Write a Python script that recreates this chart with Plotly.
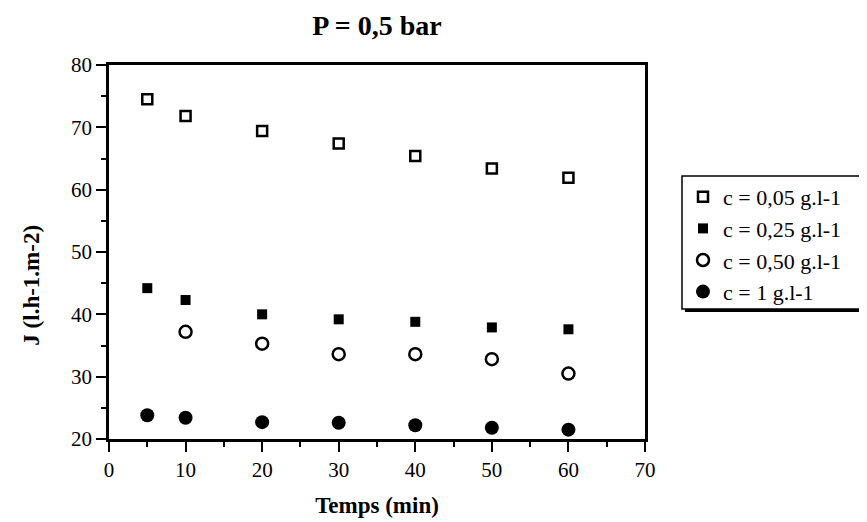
import plotly.graph_objects as go

time_min = [5, 10, 20, 30, 40, 50, 60]
time_050 = [10, 20, 30, 40, 50, 60]

J_c005 = [74.5, 71.8, 69.4, 67.4, 65.4, 63.4, 61.9]
J_c025 = [44.2, 42.3, 40.0, 39.2, 38.8, 37.9, 37.6]
J_c050 = [37.2, 35.3, 33.6, 33.6, 32.8, 30.5]
J_c1 = [23.8, 23.4, 22.7, 22.6, 22.2, 21.8, 21.5]

labels = ["c = 0,05 g.l-1", "c = 0,25 g.l-1", "c = 0,50 g.l-1", "c = 1 g.l-1"]

font_family = "Liberation Serif, Times New Roman, serif"

# plot-area geometry in pixels (for paper-coordinate conversions)
L, R, T, B = 101, 637, 57, 431
W, H = R - L, B - T


def px(xp):
    return (xp - L) / W


def py(yp):
    return (B - yp) / H


fig = go.Figure()
fig.add_trace(go.Scatter(x=time_min, y=J_c005, mode="markers", name=labels[0],
                         marker=dict(symbol="square-open", size=10, color="black",
                                     line=dict(width=2.5, color="black"))))
fig.add_trace(go.Scatter(x=time_min, y=J_c025, mode="markers", name=labels[1],
                         marker=dict(symbol="square", size=10, color="black")))
fig.add_trace(go.Scatter(x=time_050, y=J_c050, mode="markers", name=labels[2],
                         marker=dict(symbol="circle-open", size=12, color="black",
                                     line=dict(width=2.5, color="black"))))
fig.add_trace(go.Scatter(x=time_min, y=J_c1, mode="markers", name=labels[3],
                         marker=dict(symbol="circle", size=14, color="black")))

axis_common = dict(
    showgrid=False, zeroline=False, showline=True, linecolor="black", linewidth=2.5,
    mirror=True, ticks="outside", tickcolor="black", tickwidth=2, ticklen=10,
    tickfont=dict(family=font_family, size=21, color="black"),
    minor=dict(ticks="outside", ticklen=5, tickwidth=1.5, tickcolor="black", dtick=5),
)

fig.update_xaxes(range=[0, 70], dtick=10, tick0=0,
                 title=dict(text="<b>Temps (min)</b>", standoff=16,
                            font=dict(family=font_family, size=23, color="black")),
                 **axis_common)
fig.update_yaxes(range=[20, 80], dtick=10, tick0=20, **axis_common)

# legend box with drop shadow (thicker right/bottom edges)
shapes = [
    dict(type="rect", xref="paper", yref="paper", layer="above",
         x0=px(677), x1=px(864), y0=py(304), y1=py(171),
         fillcolor="black", line=dict(width=0)),
    dict(type="rect", xref="paper", yref="paper", layer="above",
         x0=px(674), x1=px(861), y0=py(301), y1=py(168),
         fillcolor="white", line=dict(width=1.5, color="black")),
]

fig.update_layout(
    width=867, height=522,
    margin=dict(l=L, r=867 - R, t=T, b=522 - B),
    paper_bgcolor="white", plot_bgcolor="white",
    title=dict(text="<b>P = 0,5 bar</b>", x=(L + R) / 2 / 867, xanchor="center",
               y=1 - 17 / 522, yanchor="middle",
               font=dict(family=font_family, size=28, color="black")),
    annotations=[dict(text="<b>J (l.h-1.m-2)</b>", xref="paper", yref="paper",
                      x=px(24), y=0.41, xanchor="center", yanchor="middle",
                      textangle=-90, showarrow=False,
                      font=dict(family=font_family, size=23, color="black"))],
    shapes=shapes,
    showlegend=True,
    legend=dict(x=px(675), xanchor="left", y=py(168), yanchor="top",
                bgcolor="rgba(0,0,0,0)", borderwidth=0,
                font=dict(family=font_family, size=22, color="black"),
                itemsizing="trace"),
    font=dict(family=font_family, color="black"),
)

fig.write_html("out.html")
